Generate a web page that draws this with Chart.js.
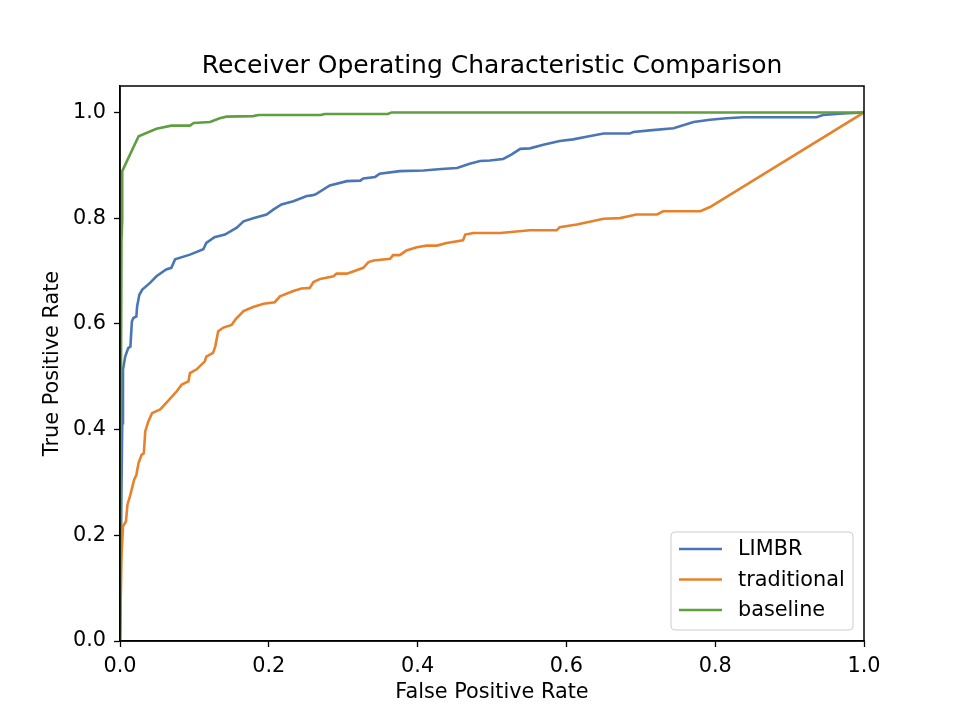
<!DOCTYPE html>
<html>
<head>
<meta charset="utf-8">
<script src="https://cdn.jsdelivr.net/npm/chart.js@4"></script>
<style>
  body { margin: 0; background: #fff; }
  canvas { display: block; }
</style>
</head>
<body>
<canvas id="roc" width="960" height="720"></canvas>
<script>
// ROC points
const limbrFpr = [0, 0.002, 0.003, 0.004, 0.007, 0.011, 0.014, 0.016, 0.018, 0.022, 0.023, 0.026, 0.030, 0.040, 0.049, 0.062, 0.069, 0.074, 0.094, 0.112, 0.116, 0.127, 0.141, 0.157, 0.166, 0.179, 0.197, 0.206, 0.217, 0.233, 0.251, 0.258, 0.263, 0.282, 0.305, 0.323, 0.327, 0.343, 0.349, 0.376, 0.408, 0.432, 0.453, 0.470, 0.484, 0.497, 0.515, 0.526, 0.538, 0.551, 0.569, 0.591, 0.609, 0.627, 0.650, 0.685, 0.690, 0.712, 0.744, 0.771, 0.793, 0.815, 0.838, 0.936, 0.945, 0.972, 1.0];
const limbrTpr = [0, 0.29, 0.412, 0.513, 0.538, 0.554, 0.557, 0.605, 0.611, 0.614, 0.633, 0.655, 0.665, 0.677, 0.690, 0.703, 0.706, 0.722, 0.731, 0.741, 0.753, 0.764, 0.769, 0.782, 0.794, 0.800, 0.807, 0.816, 0.826, 0.832, 0.842, 0.843, 0.845, 0.862, 0.870, 0.871, 0.875, 0.878, 0.884, 0.889, 0.890, 0.893, 0.895, 0.903, 0.908, 0.909, 0.912, 0.920, 0.931, 0.932, 0.939, 0.946, 0.949, 0.954, 0.960, 0.960, 0.963, 0.966, 0.970, 0.982, 0.986, 0.989, 0.991, 0.991, 0.995, 0.998, 1.0];

const tradFpr = [0, 0.002, 0.004, 0.008, 0.010, 0.014, 0.019, 0.022, 0.025, 0.029, 0.032, 0.034, 0.038, 0.043, 0.054, 0.060, 0.076, 0.083, 0.092, 0.094, 0.103, 0.114, 0.116, 0.125, 0.128, 0.132, 0.139, 0.150, 0.155, 0.166, 0.179, 0.193, 0.208, 0.215, 0.233, 0.244, 0.255, 0.260, 0.269, 0.287, 0.291, 0.305, 0.327, 0.334, 0.341, 0.363, 0.367, 0.376, 0.385, 0.399, 0.412, 0.426, 0.439, 0.461, 0.464, 0.475, 0.511, 0.551, 0.587, 0.591, 0.614, 0.650, 0.672, 0.685, 0.694, 0.722, 0.730, 0.780, 0.793, 1.0];
const tradTpr = [0, 0.16, 0.217, 0.226, 0.258, 0.277, 0.305, 0.314, 0.337, 0.352, 0.355, 0.397, 0.415, 0.431, 0.438, 0.447, 0.472, 0.485, 0.491, 0.507, 0.514, 0.529, 0.538, 0.545, 0.557, 0.586, 0.593, 0.598, 0.608, 0.624, 0.632, 0.638, 0.641, 0.652, 0.662, 0.667, 0.668, 0.679, 0.685, 0.690, 0.695, 0.695, 0.706, 0.717, 0.720, 0.723, 0.730, 0.730, 0.739, 0.745, 0.748, 0.748, 0.753, 0.758, 0.769, 0.772, 0.772, 0.777, 0.777, 0.783, 0.788, 0.799, 0.800, 0.804, 0.807, 0.807, 0.813, 0.813, 0.821, 1.0];

const baseFpr = [0, 0.002, 0.003, 0.003, 0.025, 0.049, 0.069, 0.094, 0.099, 0.121, 0.134, 0.143, 0.179, 0.186, 0.270, 0.275, 0.360, 0.365, 1.0];
const baseTpr = [0, 0.759, 0.797, 0.889, 0.955, 0.969, 0.975, 0.975, 0.980, 0.982, 0.989, 0.992, 0.993, 0.995, 0.995, 0.997, 0.997, 1.0, 1.0];

const seriesNames = ["LIMBR", "traditional", "baseline"];
const seriesColors = ["#4a76b5", "#e8812b", "#5f9f3f"];
const tickValues = [0, 0.2, 0.4, 0.6, 0.8, 1.0];

const pts = (xs, ys) => xs.map((x, i) => ({ x: x, y: ys[i] }));
const FONT = "'DejaVu Sans', sans-serif";
const FS = 20.8;

// box around plot, title over the plot area, legend in the lower right
const decor = {
  id: "decor",
  afterDatasetsDraw(chart) {
    const { ctx, chartArea: a } = chart;
    ctx.save();
    ctx.strokeStyle = "#000";
    ctx.lineWidth = 1.5;
    ctx.strokeRect(a.left, a.top, a.right - a.left, a.bottom - a.top);

    ctx.fillStyle = "#000";
    ctx.font = "25px " + FONT;
    ctx.textAlign = "center";
    ctx.textBaseline = "alphabetic";
    ctx.fillText("Receiver Operating Characteristic Comparison", (a.left + a.right) / 2, 73);

    // legend
    const bx = 671, by = 532, bw = 182, bh = 98;
    ctx.beginPath();
    ctx.roundRect(bx, by, bw, bh, 4);
    ctx.fillStyle = "rgba(255,255,255,0.8)";
    ctx.fill();
    ctx.strokeStyle = "#cccccc";
    ctx.lineWidth = 1;
    ctx.stroke();
    ctx.font = FS + "px " + FONT;
    ctx.textAlign = "left";
    ctx.textBaseline = "middle";
    seriesNames.forEach((name, i) => {
      const yy = 549 + i * 30.5;
      ctx.strokeStyle = seriesColors[i];
      ctx.lineWidth = 2.6;
      ctx.beginPath();
      ctx.moveTo(679, yy);
      ctx.lineTo(722, yy);
      ctx.stroke();
      ctx.fillStyle = "#000";
      ctx.fillText(name, 738, yy + 1);
    });
    ctx.restore();
  }
};

const axisCommon = {
  type: "linear",
  min: 0,
  grid: { display: true, drawOnChartArea: false, drawTicks: true, tickLength: 6, tickColor: "#000", tickWidth: 1.3 },
  border: { display: true, color: "#000", width: 1.5 },
  afterBuildTicks: (s) => { s.ticks = tickValues.map((v) => ({ value: v })); },
};

document.addEventListener("DOMContentLoaded", () => {
  new Chart(document.querySelector("#roc"), {
    type: "line",
    data: {
      datasets: [
        { label: seriesNames[0], data: pts(limbrFpr, limbrTpr), borderColor: seriesColors[0], order: 3 },
        { label: seriesNames[1], data: pts(tradFpr, tradTpr), borderColor: seriesColors[1], order: 2 },
        { label: seriesNames[2], data: pts(baseFpr, baseTpr), borderColor: seriesColors[2], order: 1 },
      ],
    },
    options: {
      responsive: false,
      animation: false,
      parsing: false,
      elements: {
        point: { radius: 0 },
        line: { borderWidth: 2.6, tension: 0, fill: false },
      },
      layout: { padding: { left: 0, right: 96, top: 86, bottom: 0 } },
      scales: {
        x: {
          ...axisCommon,
          max: 1,
          afterFit: (s) => { s.height = 79; },
          ticks: { color: "#000", font: { family: FONT, size: FS }, padding: 7, maxRotation: 0, callback: (v) => v.toFixed(1) },
          title: { display: true, text: "False Positive Rate", color: "#000", font: { family: FONT, size: FS }, padding: { top: 0, bottom: 15 } },
        },
        y: {
          ...axisCommon,
          max: 1.05,
          afterFit: (s) => { s.width = 120; },
          ticks: { color: "#000", font: { family: FONT, size: FS }, padding: 8, callback: (v) => v.toFixed(1) },
          title: { display: true, text: "True Positive Rate", color: "#000", font: { family: FONT, size: FS }, padding: { top: 40, bottom: 0 } },
        },
      },
      plugins: {
        legend: { display: false },
        tooltip: { enabled: false },
      },
    },
    plugins: [decor],
  });
});
</script>
</body>
</html>
